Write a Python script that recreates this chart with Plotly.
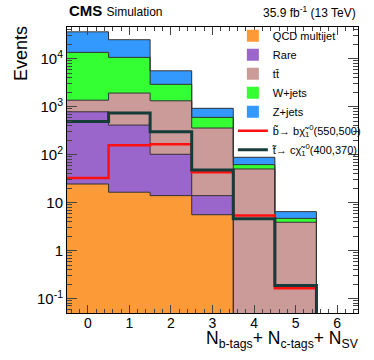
import numpy as np
import plotly.graph_objects as go

bins = [0, 1, 2, 3, 4, 5, 6]
qcd = [24.5, 16.5, 14.0, 5.6, 0, 0, 0]
rare = [760, 398, 88, 8.4, 0, 0, 0]
ttbar = [585, 1515, 1228, 346, 50.4, 3.9, 0]
wjets = [12230, 8770, 1600, 240, 11.6, 0.8, 0]
zjets = [22900, 14300, 2690, 327, 26.3, 1.8, 0]
sig_sb = [32.6, 158, 165, 43, 5.4, 0.165, 0]
sig_st = [490, 740, 302, 48, 4.6, 0.187, 0]

bkgs = [
    ("QCD multijet", qcd, "#fd9a38"),
    ("Rare", rare, "#9a66cb"),
    ("tt\u0304", ttbar, "#cb9b99"),
    ("W+jets", wjets, "#33ff33"),
    ("Z+jets", zjets, "#3399ff"),
]

FONT = "Liberation Sans"
edges = np.append(np.array(bins) - 0.5, bins[-1] + 0.5)


def step(vals):
    v = np.array(vals, dtype=float)
    v = np.where(v > 0, v, 1e-3)  # empty bins fall below the axis
    return edges, np.append(v, v[-1])


fig = go.Figure()

for name, vals, col in bkgs:
    fig.add_trace(go.Bar(x=bins, y=vals, name=name, width=1,
                         marker=dict(color=col, line=dict(width=0))))

# histogram outlines of the stack
cum = np.zeros(len(bins))
for name, vals, col in bkgs:
    cum = cum + np.array(vals)
    xs, ys = step(cum)
    fig.add_trace(go.Scatter(x=xs, y=ys, mode="lines", line_shape="hv",
                             line=dict(color="#333333", width=1),
                             showlegend=False, hoverinfo="skip"))

xs, ys = step(sig_sb)
fig.add_trace(go.Scatter(x=xs, y=ys, mode="lines", line_shape="hv",
                         name="b\u0303\u2192 b\u03c7\u0303<sub>1</sub><sup>0</sup>(550,500)",
                         line=dict(color="#ff1010", width=2.5)))
xs, ys = step(sig_st)
fig.add_trace(go.Scatter(x=xs, y=ys, mode="lines", line_shape="hv",
                         name="t\u0303\u2192 c\u03c7\u0303<sub>1</sub><sup>0</sup>(400,370)",
                         line=dict(color="#163c3a", width=3)))

minor_y = [m * 10.0 ** e for e in range(-2, 5) for m in range(2, 10)]

fig.update_layout(
    width=374, height=360,
    margin=dict(l=67, r=16, t=27, b=47, autoexpand=False),
    barmode="stack", bargap=0,
    paper_bgcolor="white", plot_bgcolor="white",
    font=dict(family=FONT, color="black", size=12),
    legend=dict(x=0.57, y=1.02, xanchor="left", yanchor="top",
                bgcolor="rgba(0,0,0,0)", traceorder="normal",
                font=dict(size=11), tracegroupgap=0, itemwidth=30),
    showlegend=True,
)

fig.update_xaxes(
    range=[-0.5, 6.5], tickvals=bins, ticks="inside", ticklen=8,
    showline=True, linecolor="black", linewidth=1, mirror="ticks",
    showgrid=False, zeroline=False, tickfont=dict(size=14),
    ticklabelstandoff=-3,
    minor=dict(dtick=0.2, ticks="inside", ticklen=4, showgrid=False),
)
fig.update_yaxes(
    type="log", range=[np.log10(0.05), np.log10(46000)],
    tickvals=[0.1, 1, 10, 100, 1000, 10000],
    ticktext=["10<sup>-1</sup>", "1", "10", "10<sup>2</sup>", "10<sup>3</sup>", "10<sup>4</sup>"],
    ticks="inside", ticklen=10,
    showline=True, linecolor="black", linewidth=1, mirror="ticks",
    showgrid=False, zeroline=False, tickfont=dict(size=15),
    minor=dict(tickvals=minor_y, ticks="inside", ticklen=5, showgrid=False),
)

fig.add_annotation(x=0, y=1.0, xref="paper", yref="paper", xanchor="left", yanchor="bottom",
                   text="<b>CMS</b> <span style='font-size:12px'>Simulation</span>",
                   showarrow=False, font=dict(size=15), yshift=6)
fig.add_annotation(x=1, y=1.0, xref="paper", yref="paper", xanchor="right", yanchor="bottom",
                   text="35.9 fb<sup>-1</sup> (13 TeV)", showarrow=False,
                   font=dict(size=12), yshift=5)
fig.add_annotation(x=-0.16, y=1.01, xref="paper", yref="paper", xanchor="center", yanchor="top",
                   text="Events", textangle=-90, showarrow=False, font=dict(size=18))
fig.add_annotation(x=1.01, y=-0.045, xref="paper", yref="paper", xanchor="right", yanchor="top",
                   text="N<sub>b-tags</sub>+ N<sub>c-tags</sub>+ N<sub>SV</sub>",
                   showarrow=False, font=dict(size=17.5))

# drop the default 8px page margin so the figure sits at the window corner
fig.write_html("out.html", config={"displayModeBar": False},
               post_script="document.body.style.margin='0';")
